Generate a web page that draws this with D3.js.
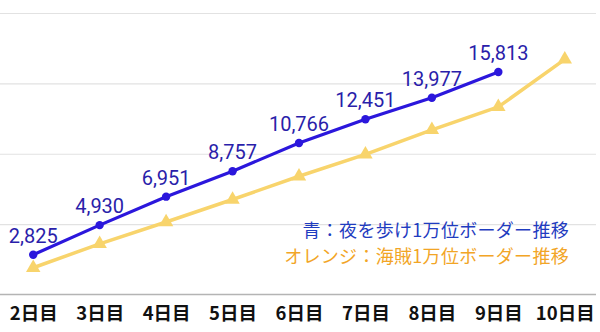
<!DOCTYPE html>
<html>
<head>
<meta charset="utf-8">
<script src="https://cdn.jsdelivr.net/npm/d3@7"></script>
<style>
  html, body { margin: 0; padding: 0; background: #fff; }
  svg { display: block; }
</style>
</head>
<body>
<svg id="chart" width="600" height="332"></svg>
<script>
// Day categories along the x axis
const days = ["2日目", "3日目", "4日目", "5日目", "6日目", "7日目", "8日目", "9日目", "10日目"];
// 夜を歩け: 1万位ボーダー (days 2-9)
const blueValues = [2825, 4930, 6951, 8757, 10766, 12451, 13977, 15813];
// 海賊: 1万位ボーダー (days 2-10)
const orangeValues = [1900, 3600, 5150, 6750, 8400, 9960, 11700, 13330, 16700];
// Horizontal grid values
const gridTicks = [0, 5000, 10000, 15000, 20000];
// Legend lines
const legendLines = ["青：夜を歩け1万位ボーダー推移", "オレンジ：海賊1万位ボーダー推移"];

const svg = d3.select("#chart");

const x = d3.scalePoint().domain(days).range([0, 598]).padding(0.5);
const y = d3.scaleLinear().domain([0, 20000]).range([294.5, 13]);

// Grid lines
const grid = svg.append("g")
  .call(d3.axisLeft(y).tickValues(gridTicks.slice(1)).tickSize(-596).tickFormat(""))
  .call(g => g.select(".domain").remove());
grid.selectAll(".tick line").attr("stroke", "#e2e2e2").attr("stroke-width", 1.2);

// Baseline
svg.append("line")
  .attr("x1", 0).attr("x2", 596)
  .attr("y1", y(0)).attr("y2", y(0))
  .attr("stroke", "#b4b4b4").attr("stroke-width", 1.6);

// X axis labels
const xAxis = svg.append("g")
  .attr("transform", `translate(0,${y(0)})`)
  .call(d3.axisBottom(x).tickSize(0).tickPadding(0))
  .call(g => g.select(".domain").remove());
xAxis.selectAll(".tick text")
  .attr("y", 25.5)
  .attr("dy", null)
  .attr("fill", "#111")
  .style("font-family", "'Noto Sans CJK JP', 'Noto Sans', sans-serif")
  .style("font-weight", 700)
  .style("font-size", "18.5px");

// Orange series
const orangeData = orangeValues.map((v, i) => ({ d: days[i], v }));
svg.append("path")
  .datum(orangeData)
  .attr("fill", "none")
  .attr("stroke", "#f8d46c")
  .attr("stroke-width", 3.5)
  .attr("stroke-linejoin", "round")
  .attr("d", d3.line().x(p => x(p.d)).y(p => y(p.v)));
svg.append("g").selectAll("path")
  .data(orangeData)
  .join("path")
  .attr("transform", p => `translate(${x(p.d)},${y(p.v)})`)
  .attr("d", d3.symbol(d3.symbolTriangle, 90))
  .attr("fill", "#f8d46c");

// Blue series
const blueData = blueValues.map((v, i) => ({ d: days[i], v }));
svg.append("path")
  .datum(blueData)
  .attr("fill", "none")
  .attr("stroke", "#2b17dc")
  .attr("stroke-width", 3.2)
  .attr("stroke-linejoin", "round")
  .attr("d", d3.line().x(p => x(p.d)).y(p => y(p.v)));
svg.append("g").selectAll("circle")
  .data(blueData)
  .join("circle")
  .attr("cx", p => x(p.d))
  .attr("cy", p => y(p.v))
  .attr("r", 4.2)
  .attr("fill", "#2b17dc");

// Value labels for the blue series
svg.append("g").selectAll("text")
  .data(blueData)
  .join("text")
  .attr("x", p => x(p.d))
  .attr("y", p => y(p.v) - 12)
  .attr("text-anchor", "middle")
  .attr("fill", "#2a1eaa")
  .style("font-family", "Roboto, sans-serif")
  .style("font-size", "20px")
  .text(p => d3.format(",")(p.v));

// Legend text
svg.append("g").selectAll("text")
  .data(legendLines)
  .join("text")
  .attr("x", 569)
  .attr("y", (d, i) => 237 + i * 26)
  .attr("text-anchor", "end")
  .attr("fill", (d, i) => i === 0 ? "#1f3cc0" : "#f2a526")
  .style("font-family", "'Noto Sans CJK JP', sans-serif")
  .style("font-size", "18px")
  .style("letter-spacing", "0.3px")
  .text(d => d);
</script>
</body>
</html>
